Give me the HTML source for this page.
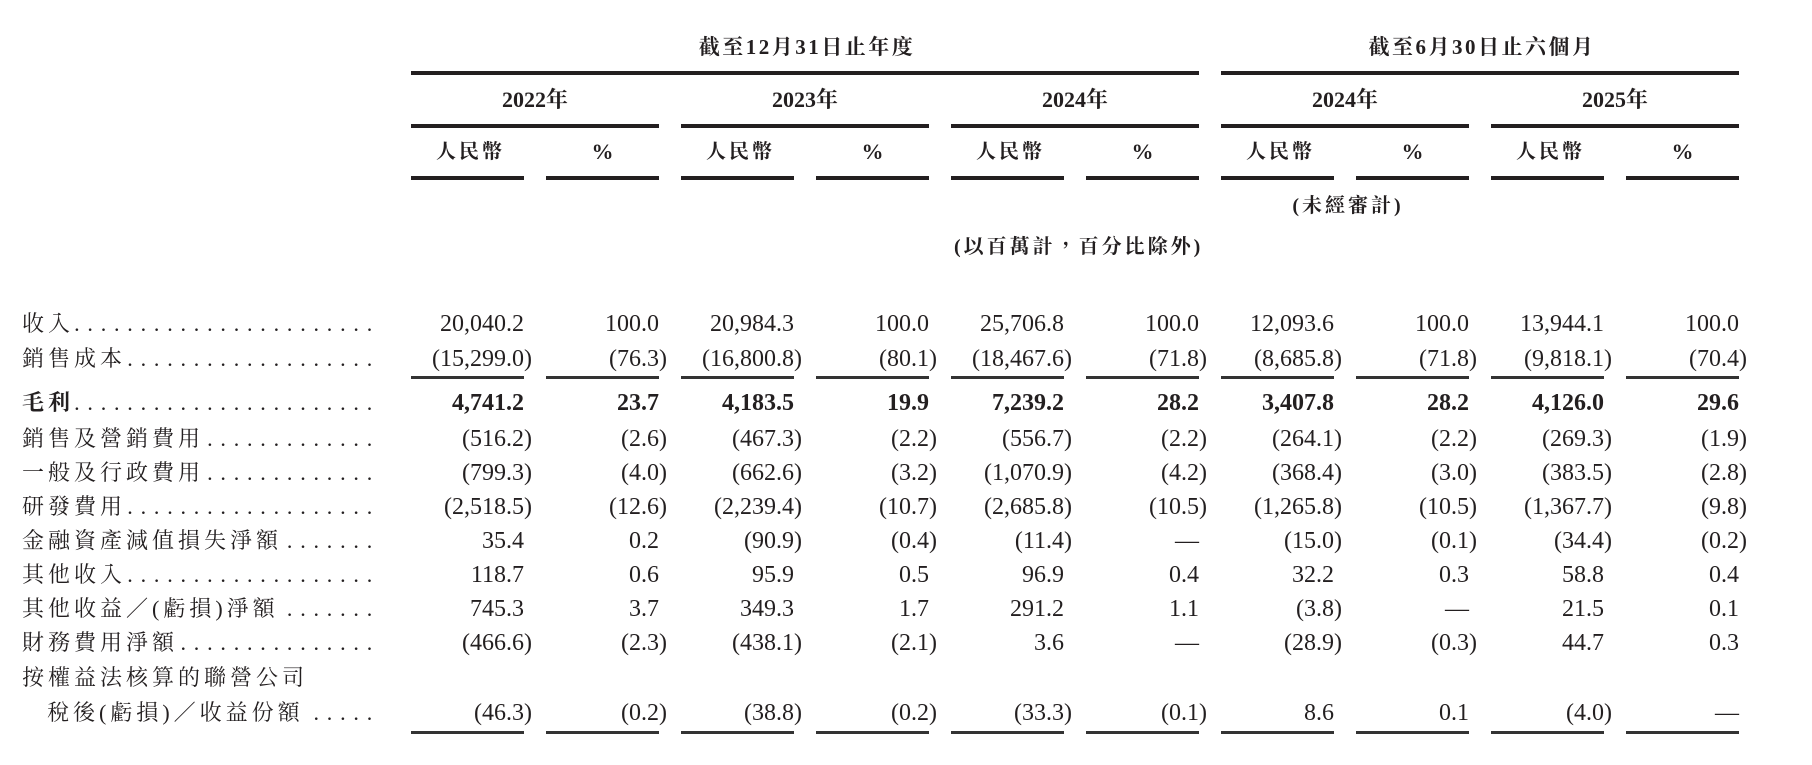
<!DOCTYPE html>
<html lang="zh-HK"><head><meta charset="utf-8">
<style>
html,body{margin:0;padding:0;background:#fff;}
#w{position:relative;width:1812px;height:765px;overflow:hidden;background:#fff;font-family:"Liberation Serif","Noto Serif CJK SC",serif;color:#231f20;}
.hl{position:absolute;background:#231f20;}
.tl{position:absolute;background:#333;height:3px;}
.h{position:absolute;white-space:nowrap;text-align:center;font-weight:700;height:30px;line-height:30px;}
.r{position:absolute;left:0;width:1812px;height:34px;}
.n{position:absolute;top:0;width:200px;text-align:right;font-size:24px;line-height:34px;white-space:nowrap;}
.b .n,.b .l{font-weight:700;}
.l{position:absolute;left:22px;top:0;font-size:22px;letter-spacing:4px;line-height:34px;white-space:nowrap;}
.d{position:absolute;right:1432px;top:0;font-size:22px;letter-spacing:7.8px;line-height:34px;white-space:nowrap;}
.p{display:inline-block;width:0;}
.c0{left:324px}.c1{left:459px}.c2{left:594px}.c3{left:729px}.c4{left:864px}
.c5{left:999px}.c6{left:1134px}.c7{left:1269px}.c8{left:1404px}.c9{left:1539px}
</style></head><body><div id="w">

<div class="h" style="left:411px;width:788px;top:32px;font-size:21px;letter-spacing:2.5px;padding-left:2px;">截至12月31日止年度</div>
<div class="h" style="left:1221px;width:518px;top:32px;font-size:21px;letter-spacing:2.5px;padding-left:2px;">截至6月30日止六個月</div>

<div class="hl" style="left:411px;top:71px;width:788px;height:4px;"></div>
<div class="hl" style="left:1221px;top:71px;width:518px;height:4px;"></div>

<div class="h" style="left:411px;width:248px;top:85px;font-size:22px;">2022年</div>
<div class="h" style="left:681px;width:248px;top:85px;font-size:22px;">2023年</div>
<div class="h" style="left:951px;width:248px;top:85px;font-size:22px;">2024年</div>
<div class="h" style="left:1221px;width:248px;top:85px;font-size:22px;">2024年</div>
<div class="h" style="left:1491px;width:248px;top:85px;font-size:22px;">2025年</div>

<div class="hl" style="left:411px;top:124px;width:248px;height:4px;"></div>
<div class="hl" style="left:681px;top:124px;width:248px;height:4px;"></div>
<div class="hl" style="left:951px;top:124px;width:248px;height:4px;"></div>
<div class="hl" style="left:1221px;top:124px;width:248px;height:4px;"></div>
<div class="hl" style="left:1491px;top:124px;width:248px;height:4px;"></div>

<div class="h" style="left:411px;width:113px;top:137px;font-size:20px;letter-spacing:3px;padding-left:3px;">人民幣</div>
<div class="h" style="left:546px;width:113px;top:137px;font-size:22px;">%</div>
<div class="h" style="left:681px;width:113px;top:137px;font-size:20px;letter-spacing:3px;padding-left:3px;">人民幣</div>
<div class="h" style="left:816px;width:113px;top:137px;font-size:22px;">%</div>
<div class="h" style="left:951px;width:113px;top:137px;font-size:20px;letter-spacing:3px;padding-left:3px;">人民幣</div>
<div class="h" style="left:1086px;width:113px;top:137px;font-size:22px;">%</div>
<div class="h" style="left:1221px;width:113px;top:137px;font-size:20px;letter-spacing:3px;padding-left:3px;">人民幣</div>
<div class="h" style="left:1356px;width:113px;top:137px;font-size:22px;">%</div>
<div class="h" style="left:1491px;width:113px;top:137px;font-size:20px;letter-spacing:3px;padding-left:3px;">人民幣</div>
<div class="h" style="left:1626px;width:113px;top:137px;font-size:22px;">%</div>

<div class="hl" style="left:411px;top:176px;width:113px;height:4px;"></div>
<div class="hl" style="left:546px;top:176px;width:113px;height:4px;"></div>
<div class="hl" style="left:681px;top:176px;width:113px;height:4px;"></div>
<div class="hl" style="left:816px;top:176px;width:113px;height:4px;"></div>
<div class="hl" style="left:951px;top:176px;width:113px;height:4px;"></div>
<div class="hl" style="left:1086px;top:176px;width:113px;height:4px;"></div>
<div class="hl" style="left:1221px;top:176px;width:113px;height:4px;"></div>
<div class="hl" style="left:1356px;top:176px;width:113px;height:4px;"></div>
<div class="hl" style="left:1491px;top:176px;width:113px;height:4px;"></div>
<div class="hl" style="left:1626px;top:176px;width:113px;height:4px;"></div>

<div class="h" style="left:1221px;width:248px;top:191px;font-size:20px;letter-spacing:3px;padding-left:3px;">(未經審計)</div>
<div class="h" style="left:951px;width:248px;top:232px;font-size:20px;letter-spacing:3px;padding-left:3px;">(以百萬計，百分比除外)</div>

<div class="r" style="top:307px;">
<div class="l">收入</div><div class="d">.......................</div>
<div class="n c0">20,040.2</div><div class="n c1">100.0</div><div class="n c2">20,984.3</div><div class="n c3">100.0</div><div class="n c4">25,706.8</div><div class="n c5">100.0</div><div class="n c6">12,093.6</div><div class="n c7">100.0</div><div class="n c8">13,944.1</div><div class="n c9">100.0</div>
</div>

<div class="r" style="top:341.5px;">
<div class="l">銷售成本</div><div class="d">...................</div>
<div class="n c0">(15,299.0<span class="p">)</span></div><div class="n c1">(76.3<span class="p">)</span></div><div class="n c2">(16,800.8<span class="p">)</span></div><div class="n c3">(80.1<span class="p">)</span></div><div class="n c4">(18,467.6<span class="p">)</span></div><div class="n c5">(71.8<span class="p">)</span></div><div class="n c6">(8,685.8<span class="p">)</span></div><div class="n c7">(71.8<span class="p">)</span></div><div class="n c8">(9,818.1<span class="p">)</span></div><div class="n c9">(70.4<span class="p">)</span></div>
</div>

<div class="tl" style="left:411px;top:376px;width:113px;"></div>
<div class="tl" style="left:546px;top:376px;width:113px;"></div>
<div class="tl" style="left:681px;top:376px;width:113px;"></div>
<div class="tl" style="left:816px;top:376px;width:113px;"></div>
<div class="tl" style="left:951px;top:376px;width:113px;"></div>
<div class="tl" style="left:1086px;top:376px;width:113px;"></div>
<div class="tl" style="left:1221px;top:376px;width:113px;"></div>
<div class="tl" style="left:1356px;top:376px;width:113px;"></div>
<div class="tl" style="left:1491px;top:376px;width:113px;"></div>
<div class="tl" style="left:1626px;top:376px;width:113px;"></div>

<div class="r b" style="top:386px;">
<div class="l">毛利</div><div class="d">.......................</div>
<div class="n c0">4,741.2</div><div class="n c1">23.7</div><div class="n c2">4,183.5</div><div class="n c3">19.9</div><div class="n c4">7,239.2</div><div class="n c5">28.2</div><div class="n c6">3,407.8</div><div class="n c7">28.2</div><div class="n c8">4,126.0</div><div class="n c9">29.6</div>
</div>

<div class="r" style="top:421.5px;">
<div class="l">銷售及營銷費用</div><div class="d">.............</div>
<div class="n c0">(516.2<span class="p">)</span></div><div class="n c1">(2.6<span class="p">)</span></div><div class="n c2">(467.3<span class="p">)</span></div><div class="n c3">(2.2<span class="p">)</span></div><div class="n c4">(556.7<span class="p">)</span></div><div class="n c5">(2.2<span class="p">)</span></div><div class="n c6">(264.1<span class="p">)</span></div><div class="n c7">(2.2<span class="p">)</span></div><div class="n c8">(269.3<span class="p">)</span></div><div class="n c9">(1.9<span class="p">)</span></div>
</div>

<div class="r" style="top:456px;">
<div class="l">一般及行政費用</div><div class="d">.............</div>
<div class="n c0">(799.3<span class="p">)</span></div><div class="n c1">(4.0<span class="p">)</span></div><div class="n c2">(662.6<span class="p">)</span></div><div class="n c3">(3.2<span class="p">)</span></div><div class="n c4">(1,070.9<span class="p">)</span></div><div class="n c5">(4.2<span class="p">)</span></div><div class="n c6">(368.4<span class="p">)</span></div><div class="n c7">(3.0<span class="p">)</span></div><div class="n c8">(383.5<span class="p">)</span></div><div class="n c9">(2.8<span class="p">)</span></div>
</div>

<div class="r" style="top:490px;">
<div class="l">研發費用</div><div class="d">...................</div>
<div class="n c0">(2,518.5<span class="p">)</span></div><div class="n c1">(12.6<span class="p">)</span></div><div class="n c2">(2,239.4<span class="p">)</span></div><div class="n c3">(10.7<span class="p">)</span></div><div class="n c4">(2,685.8<span class="p">)</span></div><div class="n c5">(10.5<span class="p">)</span></div><div class="n c6">(1,265.8<span class="p">)</span></div><div class="n c7">(10.5<span class="p">)</span></div><div class="n c8">(1,367.7<span class="p">)</span></div><div class="n c9">(9.8<span class="p">)</span></div>
</div>

<div class="r" style="top:524px;">
<div class="l">金融資產減值損失淨額</div><div class="d">.......</div>
<div class="n c0">35.4</div><div class="n c1">0.2</div><div class="n c2">(90.9<span class="p">)</span></div><div class="n c3">(0.4<span class="p">)</span></div><div class="n c4">(11.4<span class="p">)</span></div><div class="n c5">—</div><div class="n c6">(15.0<span class="p">)</span></div><div class="n c7">(0.1<span class="p">)</span></div><div class="n c8">(34.4<span class="p">)</span></div><div class="n c9">(0.2<span class="p">)</span></div>
</div>

<div class="r" style="top:558px;">
<div class="l">其他收入</div><div class="d">...................</div>
<div class="n c0">118.7</div><div class="n c1">0.6</div><div class="n c2">95.9</div><div class="n c3">0.5</div><div class="n c4">96.9</div><div class="n c5">0.4</div><div class="n c6">32.2</div><div class="n c7">0.3</div><div class="n c8">58.8</div><div class="n c9">0.4</div>
</div>

<div class="r" style="top:591.5px;">
<div class="l">其他收益／(虧損)淨額</div><div class="d">.......</div>
<div class="n c0">745.3</div><div class="n c1">3.7</div><div class="n c2">349.3</div><div class="n c3">1.7</div><div class="n c4">291.2</div><div class="n c5">1.1</div><div class="n c6">(3.8<span class="p">)</span></div><div class="n c7">—</div><div class="n c8">21.5</div><div class="n c9">0.1</div>
</div>

<div class="r" style="top:626px;">
<div class="l">財務費用淨額</div><div class="d">...............</div>
<div class="n c0">(466.6<span class="p">)</span></div><div class="n c1">(2.3<span class="p">)</span></div><div class="n c2">(438.1<span class="p">)</span></div><div class="n c3">(2.1<span class="p">)</span></div><div class="n c4">3.6</div><div class="n c5">—</div><div class="n c6">(28.9<span class="p">)</span></div><div class="n c7">(0.3<span class="p">)</span></div><div class="n c8">44.7</div><div class="n c9">0.3</div>
</div>

<div class="r" style="top:660.5px;">
<div class="l">按權益法核算的聯營公司</div>
</div>

<div class="r" style="top:695.5px;">
<div class="l" style="left:47px;">稅後(虧損)／收益份額</div><div class="d">.....</div>
<div class="n c0">(46.3<span class="p">)</span></div><div class="n c1">(0.2<span class="p">)</span></div><div class="n c2">(38.8<span class="p">)</span></div><div class="n c3">(0.2<span class="p">)</span></div><div class="n c4">(33.3<span class="p">)</span></div><div class="n c5">(0.1<span class="p">)</span></div><div class="n c6">8.6</div><div class="n c7">0.1</div><div class="n c8">(4.0<span class="p">)</span></div><div class="n c9">—</div>
</div>

<div class="tl" style="left:411px;top:731px;width:113px;"></div>
<div class="tl" style="left:546px;top:731px;width:113px;"></div>
<div class="tl" style="left:681px;top:731px;width:113px;"></div>
<div class="tl" style="left:816px;top:731px;width:113px;"></div>
<div class="tl" style="left:951px;top:731px;width:113px;"></div>
<div class="tl" style="left:1086px;top:731px;width:113px;"></div>
<div class="tl" style="left:1221px;top:731px;width:113px;"></div>
<div class="tl" style="left:1356px;top:731px;width:113px;"></div>
<div class="tl" style="left:1491px;top:731px;width:113px;"></div>
<div class="tl" style="left:1626px;top:731px;width:113px;"></div>

</div></body></html>
